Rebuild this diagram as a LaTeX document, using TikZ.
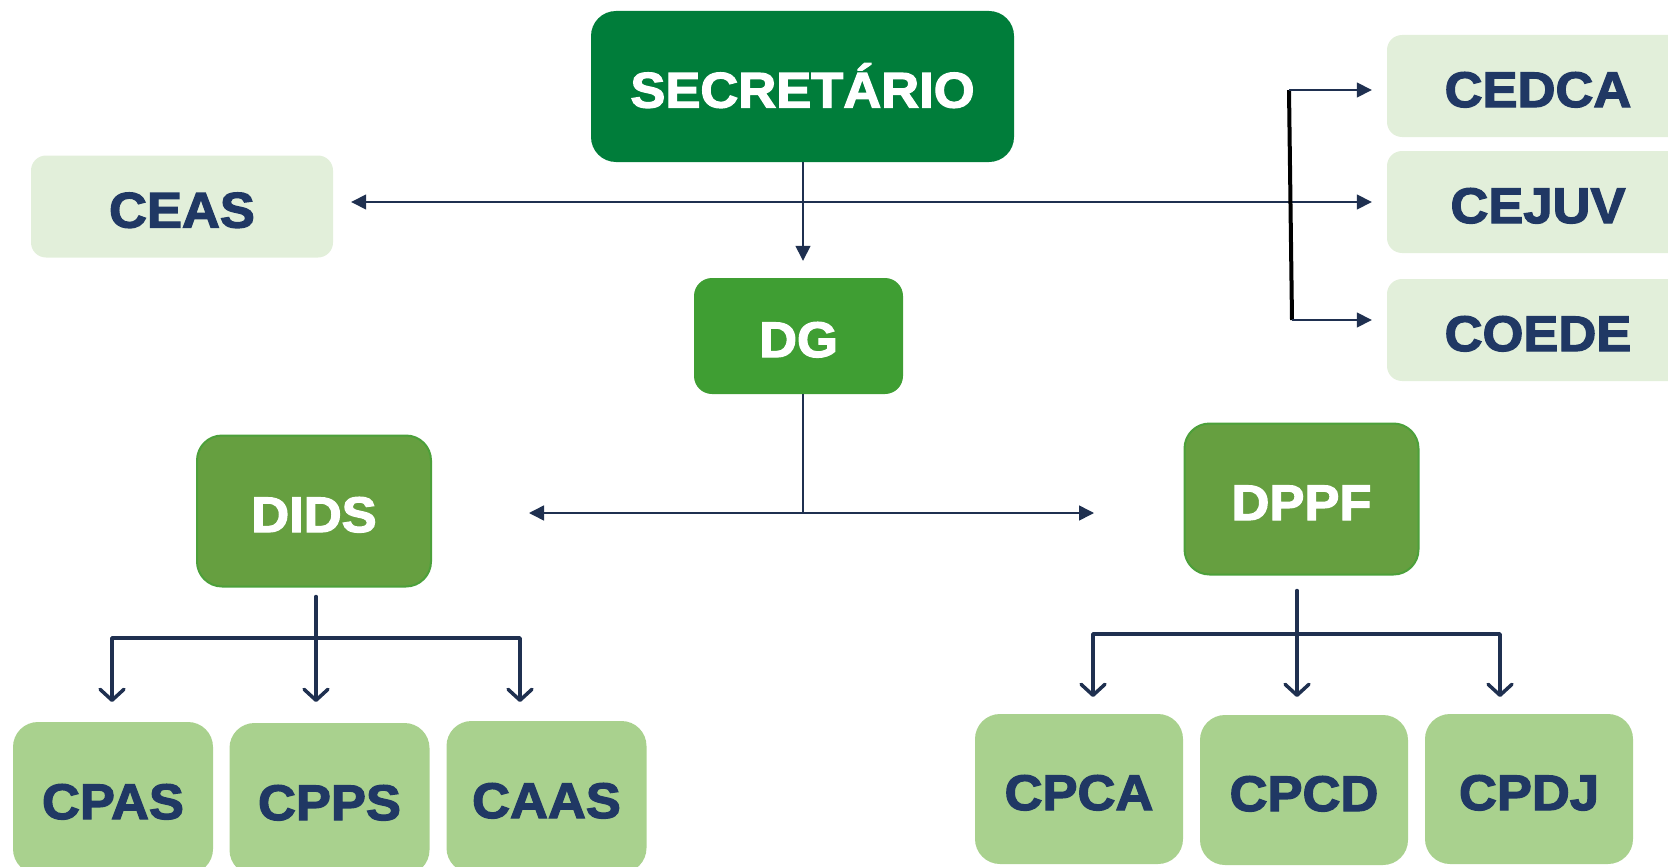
\documentclass[tikz,border=0pt]{standalone}
\usepackage{fontspec}
\newfontfamily\heavy{Liberation Sans}[BoldFeatures={FakeBold=2.5,FakeStretch=1.05}]
\usetikzlibrary{arrows.meta}
\definecolor{dkgreen}{HTML}{007D3A}
\definecolor{midgreen}{HTML}{3F9E33}
\definecolor{olgreen}{HTML}{669F40}
\definecolor{olborder}{HTML}{4CA03A}
\definecolor{ltgreen}{HTML}{A9D18E}
\definecolor{palegreen}{HTML}{E2EFDA}
\definecolor{navytxt}{HTML}{203864}
\definecolor{navyline}{HTML}{1F3050}
\tikzset{
  box/.style={draw=none, inner sep=0pt, text height=42pt, text depth=0pt, font=\heavy\bfseries\fontsize{50}{60}\selectfont, text=navytxt},
  topbox/.style={box, fill=dkgreen, text=white, rounded corners=25pt, minimum width=423pt, minimum height=151pt},
  dgbox/.style={box, fill=midgreen, text=white, rounded corners=18pt, minimum width=209pt, minimum height=116pt},
  dirbox/.style={box, fill=olgreen, draw=olborder, line width=2pt, text=white, rounded corners=25pt, minimum width=234pt, minimum height=151pt},
  councilbox/.style={box, fill=palegreen, rounded corners=15pt, minimum width=302pt, minimum height=102pt},
  leafbox/.style={box, fill=ltgreen, rounded corners=25pt, minimum width=200pt, minimum height=152pt},
  thinarrow/.style={draw=navyline, line width=1.5pt, -{Triangle[length=15pt,width=15pt]}},
  thinline/.style={draw=navyline, line width=1.5pt},
  bracket/.style={draw=black, line width=4pt},
  treeline/.style={draw=navyline, line width=3.5pt, line join=round, line cap=round},
  treetip/.tip={Straight Barb[length=11pt,width=24pt,line width=3.5pt,round]}
}
\begin{document}
\begin{tikzpicture}[x=1pt,y=-1pt]
\useasboundingbox (0,0) rectangle (1668,867);
\clip (0,0) rectangle (1668,867);
% boxes
\node[topbox] (secretario) at (802.5,86.5) {SECRETÁRIO};
\node[councilbox] (ceas) at (182,206.5) {CEAS};
\node[councilbox] (cedca) at (1538,86) {CEDCA};
\node[councilbox] (cejuv) at (1538,202) {CEJUV};
\node[councilbox] (coede) at (1538,330) {COEDE};
\node[dgbox] (dg) at (798.5,336) {DG};
\node[dirbox] (dids) at (314,511) {DIDS};
\node[dirbox] (dppf) at (1301.5,499) {DPPF};
\node[leafbox] (cpas) at (113,798) {CPAS};
\node[leafbox] (cpps) at (329.5,799) {CPPS};
\node[leafbox] (caas) at (546.5,797) {CAAS};
\node[leafbox, minimum width=208pt, minimum height=150pt] (cpca) at (1079,789) {CPCA};
\node[leafbox, minimum width=208pt, minimum height=150pt] (cpcd) at (1304,790) {CPCD};
\node[leafbox, minimum width=208pt, minimum height=150pt] (cpdj) at (1529,789) {CPDJ};
% connector coordinates
\coordinate (hj) at (803,202);
\coordinate (bt) at (1289,90);
\coordinate (bb) at (1292,320);
\coordinate (dj) at (803,513);
% secretario -> dg, ceas, cejuv
\draw[thinarrow] (secretario.south -| hj) -- ([yshift=17pt]dg.north -| hj);
\draw[thinarrow] (hj) -- ([xshift=18pt]ceas.east |- hj);
\draw[thinarrow] (hj) -- ([xshift=-15pt]cejuv.west |- hj);
% bracket to cedca, coede
\draw[bracket] (bt) -- (bb);
\draw[thinarrow] (bt) -- ([xshift=-15pt]cedca.west |- bt);
\draw[thinarrow] (bb) -- ([xshift=-15pt]coede.west |- bb);
% dg -> dids, dppf
\draw[thinline] (dg.south -| dj) -- (dj);
\draw[thinarrow] (dj) -- (529,513);
\draw[thinarrow] (dj) -- (1094,513);
% dids tree
\coordinate (da1) at (112,702);
\coordinate (da2) at (316,702);
\coordinate (da3) at (520,702);
\coordinate (dbar) at (316,638);
\draw[treeline, {treetip}-{treetip}] (da1) -- (da1 |- dbar) -- (da3 |- dbar) -- (da3);
\draw[treeline, -{treetip}] ([yshift=-9pt]dids.south -| da2) -- (da2);
% dppf tree
\coordinate (pa1) at (1093,697);
\coordinate (pa2) at (1297,697);
\coordinate (pa3) at (1500,697);
\coordinate (pbar) at (1297,634);
\draw[treeline, {treetip}-{treetip}] (pa1) -- (pa1 |- pbar) -- (pa3 |- pbar) -- (pa3);
\draw[treeline, -{treetip}] ([yshift=-15pt]dppf.south -| pa2) -- (pa2);
\end{tikzpicture}
\end{document}
